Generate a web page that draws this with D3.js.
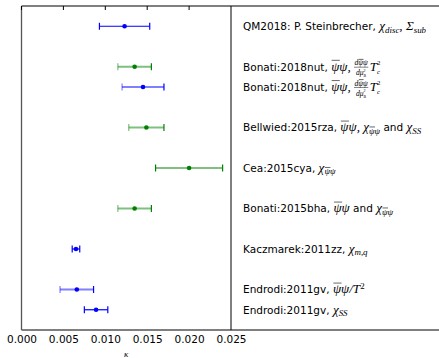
<!DOCTYPE html>
<html><head><meta charset="utf-8">
<script src="https://cdn.jsdelivr.net/npm/d3@7"></script>
<style>html,body{margin:0;padding:0;background:#fff;}svg{display:block;}svg text{white-space:pre;}</style>
</head><body>
<svg id="c" width="439" height="358"></svg>
<script>
// ---- data ----
const refs = ["QM2018: P. Steinbrecher", "Bonati:2018nut", "Bonati:2018nut", "Bellwied:2015rza",
  "Cea:2015cya", "Bonati:2015bha", "Kaczmarek:2011zz", "Endrodi:2011gv", "Endrodi:2011gv"];
const rows = [15, 13, 12, 10, 8, 6, 4, 2, 1];
const kappa = [0.0123, 0.0135, 0.0145, 0.0149, 0.0200, 0.0135, 0.0065, 0.0066, 0.0089];
const kappaErr = [0.0030, 0.0020, 0.0025, 0.0021, 0.0040, 0.0020, 0.00045, 0.0020, 0.0014];
const group = ["blue", "green", "blue", "green", "green", "green", "blue", "blue", "blue"];
const faded = [false, true, true, true, false, true, false, true, false];
const xTicks = [0.000, 0.005, 0.010, 0.015, 0.020, 0.025];

// segment helpers for observables
const R = t => ({k: "r", t}), M = t => ({k: "m", t}), O = t => ({k: "m", t, over: true});
const Sb = (t, over) => ({k: "sub", t, over}), Sp = t => ({k: "sup", t});
const SS = (sub, sup) => ({k: "subsup", sub, sup});
const F = (num, den) => ({k: "frac", num, den});
const psibarpsi = [O("ψ"), M("ψ")];
const dfrac = F([M("d"), O("ψ"), M("ψ")], [M("dμ"), SS("B", "2")]);
const observables = [
  [M("χ"), Sb("disc"), M(", "), M("Σ"), Sb("sub")],
  [...psibarpsi, M(", "), dfrac, M("T"), SS("c", "2")],
  [...psibarpsi, M(", "), dfrac, M("T"), SS("c", "2")],
  [...psibarpsi, M(", "), M("χ"), Sb("ψ", true), Sb("ψ"), R(" and "), M("χ"), Sb("SS")],
  [M("χ"), Sb("ψ", true), Sb("ψ")],
  [...psibarpsi, R(" and "), M("χ"), Sb("ψ", true), Sb("ψ")],
  [M("χ"), Sb("m,q")],
  [...psibarpsi, M("/T"), Sp("2")],
  [M("χ"), Sb("SS")]
];

// ---- chart ----
const svg = d3.select("#c");
const x = d3.scaleLinear().domain([0, 0.025]).range([21.5, 231]);
const y = d3.scaleLinear().domain([0, 16]).range([330, 6]);
const col = {blue: "#0000ff", green: "#008000"};

// frame
svg.append("line").attr("x1", x(0)).attr("x2", 439).attr("y1", y(16)).attr("y2", y(16)).attr("stroke", "#555").attr("stroke-width", 1.3);
svg.append("line").attr("x1", x(0)).attr("x2", 439).attr("y1", y(0)).attr("y2", y(0)).attr("stroke", "#555").attr("stroke-width", 1.3);
svg.append("line").attr("x1", x(0)).attr("x2", x(0)).attr("y1", y(0)).attr("y2", y(16)).attr("stroke", "#555").attr("stroke-width", 1.3);
svg.append("line").attr("x1", x(0.025)).attr("x2", x(0.025)).attr("y1", y(0)).attr("y2", y(16)).attr("stroke", "#000").attr("stroke-width", 1);

// top ticks (inward)
svg.append("g").selectAll("line").data(xTicks.slice(0, -1)).join("line")
  .attr("x1", d => x(d)).attr("x2", d => x(d)).attr("y1", y(16)).attr("y2", y(16) + 4)
  .attr("stroke", "#000").attr("stroke-width", 1);

// bottom axis labels
const ax = d3.axisBottom(x).tickValues(xTicks).tickFormat(d3.format(".3f")).tickSize(0).tickPadding(6);
const axg = svg.append("g").attr("transform", `translate(0,${y(0)})`).call(ax);
axg.select(".domain").remove();
axg.selectAll("text").attr("font-family", "DejaVu Sans").attr("font-size", 10.5).attr("fill", "#000");

svg.append("text").attr("x", (x(0) + x(0.025)) / 2).attr("y", 357).attr("text-anchor", "middle")
  .attr("font-family", "Liberation Serif").attr("font-style", "italic").attr("font-size", 9).text("κ");

// error bars
const pts = kappa.map((k, i) => ({k, e: kappaErr[i], r: rows[i], c: col[group[i]], f: faded[i]}));
const eb = svg.append("g").selectAll("g").data(pts).join("g");
eb.append("line").attr("x1", d => x(d.k - d.e)).attr("x2", d => x(d.k + d.e))
  .attr("y1", d => y(d.r)).attr("y2", d => y(d.r)).attr("stroke", d => d.c)
  .attr("stroke-width", d => d.f ? 2.2 : 1.2).attr("stroke-opacity", d => d.f ? 0.5 : 1);
[-1, 1].forEach(s => {
  eb.append("line").attr("x1", d => x(d.k + s * d.e)).attr("x2", d => x(d.k + s * d.e))
    .attr("y1", d => y(d.r) - 3.5).attr("y2", d => y(d.r) + 3.5).attr("stroke", d => d.c)
    .attr("stroke-width", 1.2).attr("stroke-opacity", d => (d.f && s < 0) ? 0.5 : 1);
});
eb.append("circle").attr("cx", d => x(d.k)).attr("cy", d => y(d.r)).attr("r", 2.3).attr("fill", d => d.c);

// labels
const MATH = 1.25, SUB = 0.68, SSZ = 0.52;
function renderSegs(g, segs, x0, y0, size) {
  let cx = x0;
  const ms = size * MATH;
  segs.forEach(s => {
    if (s.k === "frac") {
      const fs = size * 0.58;
      const gn = g.append("g"), gd = g.append("g");
      const wn = renderSegs(gn, s.num, 0, 0, fs), wd = renderSegs(gd, s.den, 0, 0, fs);
      const w = Math.max(wn, wd) + 1;
      gn.attr("transform", `translate(${cx + (w - wn) / 2},${y0 - size * 0.5})`);
      gd.attr("transform", `translate(${cx + (w - wd) / 2},${y0 + size * 0.45})`);
      g.append("line").attr("x1", cx).attr("x2", cx + w).attr("y1", y0 - size * 0.32).attr("y2", y0 - size * 0.32)
        .attr("stroke", "#000").attr("stroke-width", 0.5);
      cx += w + 1.5;
      return;
    }
    if (s.k === "subsup") {
      const fs = ms * SSZ;
      const a = g.append("text").attr("x", cx).attr("y", y0 + ms * 0.28).attr("font-family", "Liberation Serif")
        .attr("font-style", "italic").attr("font-size", fs).text(s.sub);
      const b = g.append("text").attr("x", cx).attr("y", y0 - ms * 0.42).attr("font-family", "Liberation Serif")
        .attr("font-size", fs).text(s.sup);
      cx += Math.max(a.node().getComputedTextLength(), b.node().getComputedTextLength()) + 0.5;
      return;
    }
    const sub = s.k === "sub", sup = s.k === "sup";
    const fs = (sub || sup) ? ms * SUB : (s.k === "r" ? size : ms);
    const yy = y0 + (sub ? ms * 0.2 : sup ? -ms * 0.36 : 0);
    const t = g.append("text").attr("x", cx).attr("y", yy).attr("font-size", fs).text(s.t);
    if (s.k === "r") t.attr("font-family", "DejaVu Sans");
    else t.attr("font-family", "Liberation Serif").attr("font-style", /^\d+$/.test(s.t) ? "normal" : "italic");
    const w = t.node().getComputedTextLength();
    if (s.over) g.append("line").attr("x1", cx + 0.5).attr("x2", cx + w + 0.5).attr("y1", yy - fs * 0.78).attr("y2", yy - fs * 0.78)
      .attr("stroke", "#000").attr("stroke-width", 0.6);
    cx += w;
  });
  return cx - x0;
}

const lg = svg.append("g");
refs.forEach((r, i) => {
  const yy = y(rows[i]) + 3.8;
  renderSegs(lg.append("g"), [R(r + ", "), ...observables[i]], 243, yy, 10.5);
});
</script>
</body></html>
